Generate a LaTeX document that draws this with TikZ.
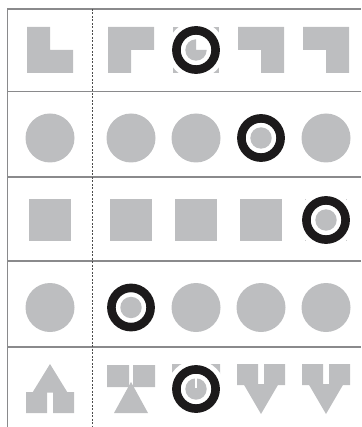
\documentclass[tikz,border=0pt]{standalone}
\usepackage{amsmath}
\definecolor{tilegray}{RGB}{189,190,192}
\definecolor{rulegray}{RGB}{138,138,140}
\definecolor{ringblack}{RGB}{28,26,27}

\begin{document}
\begin{tikzpicture}[x=1pt,y=-1pt,
 tile/.style={fill=tilegray},
 rule/.style={draw=rulegray,line width=1.6pt},
 sep/.style={draw=black!70,line width=.6pt,dash pattern=on 2pt off 1.5pt},
 halo/.style={fill=white},
 ring/.style={draw=ringblack,line width=8.6pt,fill=white}]
\useasboundingbox (0,0) rectangle (361,427);
% grid
\foreach \y in {9,91.5,177,261,347} \draw[rule] (7.5,\y) -- (361,\y);
\draw[rule] (7.5,8.2) -- (7.5,427);
\draw[sep] (92,9) -- (92,427);
% row 1
\fill[tile] (27,27) -- (50,27) -- (50,50) -- (73,50) -- (73,73) -- (27,73) -- cycle;
\fill[tile] (108,27) -- (154,27) -- (154,50) -- (131,50) -- (131,73) -- (108,73) -- cycle;
\fill[tile] (173,27) rectangle (219,73);
\foreach \x in {261,326}
 \fill[tile] (\x-23,27) -- (\x+23,27) -- (\x+23,73) -- (\x,73) -- (\x,50) -- (\x-23,50) -- cycle;
% row 2
\foreach \x in {50,131,196,261,326} \fill[tile] (\x,138) circle (24.5);
% row 3
\foreach \x in {50,131,196,261,326} \fill[tile] (\x-21.25,198.75) rectangle (\x+21.25,241.25);
% row 4
\foreach \x in {50,131,196,261,326} \fill[tile] (\x,307.5) circle (24.5);
% row 5
\fill[tile] (50,364) -- (67.5,392.5) -- (32.5,392.5) -- cycle;
\fill[tile] (26,392) rectangle (47,413) (53,392) rectangle (74,413);
\fill[tile] (107,365) rectangle (129,387) (133,365) rectangle (155,387);
\fill[tile] (131,382) -- (148,413) -- (114,413) -- cycle;
\foreach \x in {196,261,326}{
 \fill[tile] (\x-24,364) rectangle (\x-3,385) (\x+3,364) rectangle (\x+24,385);
 \fill[tile] (\x-17.5,384) -- (\x+17.5,384) -- (\x,414) -- cycle;
}
% answers
\foreach \x/\y in {196/50,261/138,326/220,131/307.5,196/389}{
 \fill[halo] (\x,\y) circle (28.8);
 \draw[ring] (\x,\y) circle (19.6);
}
\fill[tile] (196,50) -- (206.7,50) arc[start angle=0,end angle=270,radius=10.7] -- cycle;
\foreach \x/\y in {261/138,326/220,131/307.5,196/389}
 \fill[tile] (\x,\y) circle (10.7);
\fill[white] (194.7,377) rectangle (197.3,388);
\end{tikzpicture}
\end{document}
